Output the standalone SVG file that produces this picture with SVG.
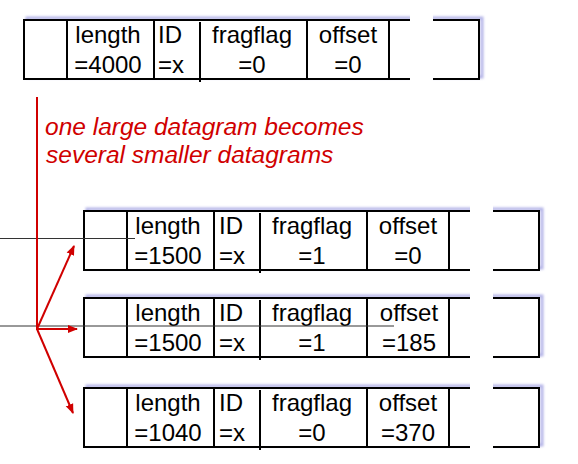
<svg xmlns="http://www.w3.org/2000/svg" width="578" height="464" viewBox="0 0 578 464">
<style>
.t{font-family:"Liberation Sans",Arial,sans-serif;font-size:24px;fill:#000}
.m{text-anchor:middle}
.frame{fill:#fff;stroke:#000;stroke-width:2}
.div{stroke:#000;stroke-width:2}
.shadow{fill:none;stroke:#9c9ce0;stroke-width:3;opacity:.75;filter:url(#blur)}
.gap{fill:#fff}
.red{stroke:#d00000;stroke-width:2;fill:none}
.thin{stroke:#333;stroke-width:1}
.note{font-family:"Liberation Sans",Arial,sans-serif;font-size:24.5px;font-style:italic;fill:#d00000}
</style>
<defs>
<filter id="blur" x="-5%" y="-20%" width="110%" height="140%"><feGaussianBlur stdDeviation="1.2"/></filter>
<marker id="ah" markerWidth="10" markerHeight="10" refX="9" refY="5" orient="auto" markerUnits="userSpaceOnUse">
<path d="M0,1 L10,5 L0,9 Z" fill="#d00000"/>
</marker>
<g id="frameShape">
<rect class="shadow" x="3" y="-2" width="455" height="59"/>
<rect class="frame" x="0" y="0" width="455" height="59"/>
<line class="div" x1="43" y1="0" x2="43" y2="59"/>
<line class="div" x1="130" y1="0" x2="130" y2="59"/>
<line class="div" x1="176" y1="2" x2="176" y2="62"/>
<line class="div" x1="283" y1="0" x2="283" y2="59"/>
<line class="div" x1="365" y1="0" x2="365" y2="59"/>
<rect class="gap" x="386" y="-6" width="23" height="69"/>
</g>
</defs>

<g id="datagram-original" transform="translate(24,20)">
<use href="#frameShape"/>
<text class="t m" x="84" y="23.3">length</text>
<text class="t m" x="84" y="53.3">=4000</text>
<text class="t" x="134" y="23.3">ID</text>
<text class="t" x="134" y="53.3">=x</text>
<text class="t m" x="228" y="23.3">fragflag</text>
<text class="t m" x="228" y="53.3">=0</text>
<text class="t m" x="324" y="23.3">offset</text>
<text class="t m" x="324" y="53.3">=0</text>
</g>

<g id="note">
<text class="note" x="45" y="135">one large datagram becomes</text>
<text class="note" x="46" y="163">several smaller datagrams</text>
</g>

<g id="fragment-1" transform="translate(84,211)">
<use href="#frameShape"/>
<text class="t m" x="84" y="23.3">length</text>
<text class="t m" x="84" y="53.3">=1500</text>
<text class="t" x="135" y="23.3">ID</text>
<text class="t" x="135" y="53.3">=x</text>
<text class="t m" x="228" y="23.3">fragflag</text>
<text class="t m" x="228" y="53.3">=1</text>
<text class="t m" x="324" y="23.3">offset</text>
<text class="t m" x="324" y="53.3">=0</text>
</g>

<g id="fragment-2" transform="translate(84,298)">
<use href="#frameShape"/>
<text class="t m" x="84" y="23.3">length</text>
<text class="t m" x="84" y="53.3">=1500</text>
<text class="t" x="135" y="23.3">ID</text>
<text class="t" x="135" y="53.3">=x</text>
<text class="t m" x="228" y="23.3">fragflag</text>
<text class="t m" x="228" y="53.3">=1</text>
<text class="t m" x="325" y="23.3">offset</text>
<text class="t m" x="325" y="53.3">=185</text>
</g>

<g id="fragment-3" transform="translate(84,388)">
<use href="#frameShape"/>
<text class="t m" x="84" y="23.3">length</text>
<text class="t m" x="84" y="53.3">=1040</text>
<text class="t" x="135" y="23.3">ID</text>
<text class="t" x="135" y="53.3">=x</text>
<text class="t m" x="228" y="23.3">fragflag</text>
<text class="t m" x="228" y="53.3">=0</text>
<text class="t m" x="324" y="23.3">offset</text>
<text class="t m" x="324" y="53.3">=370</text>
</g>

<g id="connectors">
<line class="thin" x1="0" y1="238.5" x2="135" y2="238.5"/>
<line class="thin" x1="0" y1="326" x2="394" y2="326"/>
<line class="red" x1="37" y1="97" x2="37" y2="330"/>
<line class="red" x1="37" y1="329" x2="74" y2="246" marker-end="url(#ah)"/>
<line class="red" x1="37" y1="329" x2="77" y2="329" marker-end="url(#ah)"/>
<line class="red" x1="37" y1="329" x2="73" y2="413" marker-end="url(#ah)"/>
</g>
</svg>
